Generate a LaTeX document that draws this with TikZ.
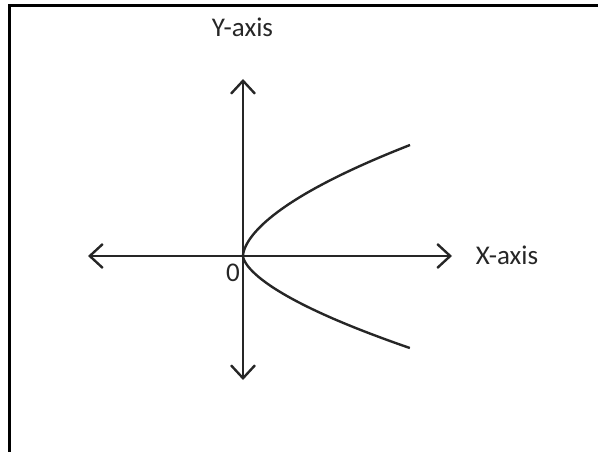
\documentclass[tikz,border=0pt]{standalone}
\usepackage{fontspec}
\setmainfont{Carlito}
\usetikzlibrary{arrows.meta}
\definecolor{ink}{HTML}{262626}
\tikzset{
  tipshape/.tip={Straight Barb[length=13bp,width=24bp,line width=2.4bp]},
  axisline/.style={line width=2.4bp, draw=ink, tipshape-tipshape},
  curveline/.style={line width=2.4bp, draw=ink},
  lbl/.style={font=\fontsize{27bp}{30bp}\selectfont, text=ink, inner sep=0pt, anchor=base}
}
\begin{document}
\begin{tikzpicture}[x=1bp,y=-1bp]
\useasboundingbox (0,0) rectangle (598,452);
% frame (only top and left edges visible)
\draw[line width=2.2bp] (9.5,452) -- (9.5,5.5) -- (598,5.5);
\coordinate (O) at (243,256);
\coordinate (xl) at (88,256);
\coordinate (xr) at (452,256);
\coordinate (yt) at (243,79);
\coordinate (yb) at (243,380);
\draw[axisline] (xl) -- (xr);
\draw[axisline] (yb) -- (yt);
% parabola branches
\begin{scope}[shift={(O)}]
\draw[curveline] plot[domain=0.001:111, samples=80, smooth] ({0.0557*\x^1.7}, {-\x});
\draw[curveline] plot[domain=0.001:92, samples=80, smooth] ({0.1203*\x^1.6}, {\x});
\end{scope}
\node[lbl] (ylab) at (242.5,37) {Y-axis};
\node[lbl] (xlab) at (507,265) {X-axis};
\node[lbl] (olab) at (233,282) {0};
\end{tikzpicture}
\end{document}
